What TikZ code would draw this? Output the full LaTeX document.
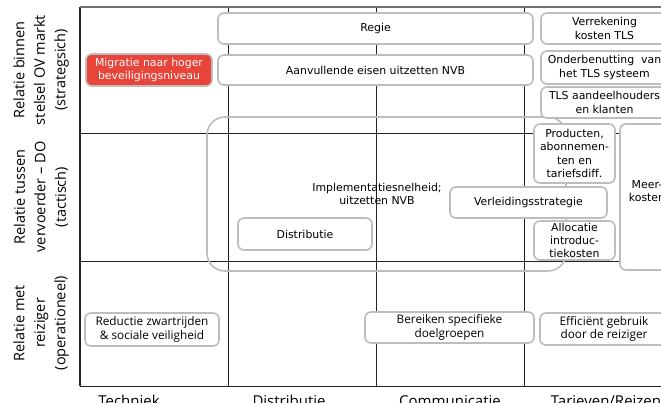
\documentclass[tikz,border=0pt]{standalone}
\usepackage{fontspec}
\setmainfont{DejaVu Sans}
\newfontfamily\osans{Open Sans}
\definecolor{boxgray}{HTML}{BDBDBD}
\definecolor{gridc}{HTML}{222222}
\definecolor{topc}{HTML}{707070}
\definecolor{redfill}{HTML}{E8443A}
\begin{document}
\begin{tikzpicture}[x=1pt,y=-1pt,
  gridline/.style={draw=gridc, line width=0.9pt},
  box/.style={draw=boxgray, line width=1.6pt, rounded corners=6pt, fill=white,
    align=center, inner sep=0pt, font=\fontsize{10.9}{13.2}\selectfont},
  obox/.style={box, font=\osans\fontsize{11.8}{13.6}\selectfont},
  redbox/.style={box, fill=redfill, text=white},
  rowlab/.style={rotate=90, align=center, font=\osans\fontsize{14.5}{20.5}\selectfont},
  collab/.style={anchor=base, font=\osans\fontsize{15}{18}\selectfont},
  bigbox/.style={draw=boxgray, line width=1.6pt, rounded corners=18pt, inner sep=0pt}]
\useasboundingbox (0,0) rectangle (661,403);
\fill[white] (0,0) rectangle (661,403);
\clip (0,0) rectangle (661,403);
% grid
\draw[gridline] (80,133) -- (680,133);
\draw[gridline] (80,261) -- (680,261);
\draw[gridline] (80,386) -- (680,386);
\draw[gridline] (228,7) -- (228,386);
\draw[gridline] (376,7) -- (376,386);
\draw[gridline] (524,7) -- (524,386);
\draw[draw=gridc, line width=1.2pt] (80,7) -- (80,386);
\draw[draw=topc, line width=1.6pt] (80,7) -- (680,7);
% row labels
\node[rowlab] (r1) at (41,70) {Relatie binnen\\stelsel OV markt\\(strategsich)};
\node[rowlab] (r2) at (41,197) {Relatie tussen\\vervoerder – DO\\(tactisch)};
\node[rowlab] (r3) at (41,323) {Relatie met\\reiziger\\(operationeel)};
% column labels
\node[collab] (c1) at (129,406) {Techniek};
\node[collab] (c2) at (289,406) {Distributie};
\node[collab] (c3) at (450,406) {Communicatie};
\node[collab] (c4) at (606,406) {Tarieven/Reizen};
% big box
\node[bigbox, minimum width=359pt, minimum height=154pt] (big) at (386.5,194) {};
\node[align=center, inner sep=0pt, font=\fontsize{10.9}{13.2}\selectfont] (impl) at (377,194) {Implementatiesnelheid;\\uitzetten NVB};
% boxes
\node[box, minimum width=315pt, minimum height=31pt] (regie) at (375.5,28.5) {Regie};
\node[box, minimum width=315pt, minimum height=30pt] (aanv) at (375.5,70) {Aanvullende eisen uitzetten NVB};
\node[redbox, minimum width=126pt, minimum height=32pt] (migr) at (149,70) {Migratie naar hoger\\beveiligingsniveau};
\node[box, minimum width=127pt, minimum height=31pt] (verr) at (604.5,28.5) {Verrekening\\kosten TLS};
\node[box, minimum width=127pt, minimum height=33pt] (onder) at (604.5,67.5) {Onderbenutting\ \ van\\het TLS systeem};
\node[box, minimum width=127pt, minimum height=31pt] (tls) at (604.5,102.5) {TLS aandeelhouders\\en klanten};
\node[box, minimum width=52pt, minimum height=146pt] (meer) at (646,197) {};
\node[align=center, inner sep=0pt, font=\fontsize{10.9}{13.2}\selectfont] (meertxt) at (647,191) {Meer-\\kosten};
\node[box, minimum width=81pt, minimum height=59pt] (prod) at (574.5,153.5) {Producten,\\abonnemen-\\ten en\\tariefsdiff.};
\node[box, minimum width=157pt, minimum height=31pt] (verl) at (528.5,202.5) {Verleidingsstrategie};
\node[box, minimum width=81pt, minimum height=39pt] (alloc) at (574.5,240.5) {Allocatie\\introduc-\\tiekosten};
\node[box, minimum width=134pt, minimum height=32pt] (distr) at (305,234) {Distributie};
\node[obox, minimum width=134pt, minimum height=33pt] (reduct) at (152,329.5) {Reductie zwartrijden\\\& sociale veiligheid};
\node[obox, minimum width=169pt, minimum height=31pt] (bereik) at (449.5,327.5) {Bereiken specifieke\\doelgroepen};
\node[obox, minimum width=128pt, minimum height=32pt] (effic) at (604,329) {Efficiënt gebruik\\door de reiziger};
\end{tikzpicture}
\end{document}
